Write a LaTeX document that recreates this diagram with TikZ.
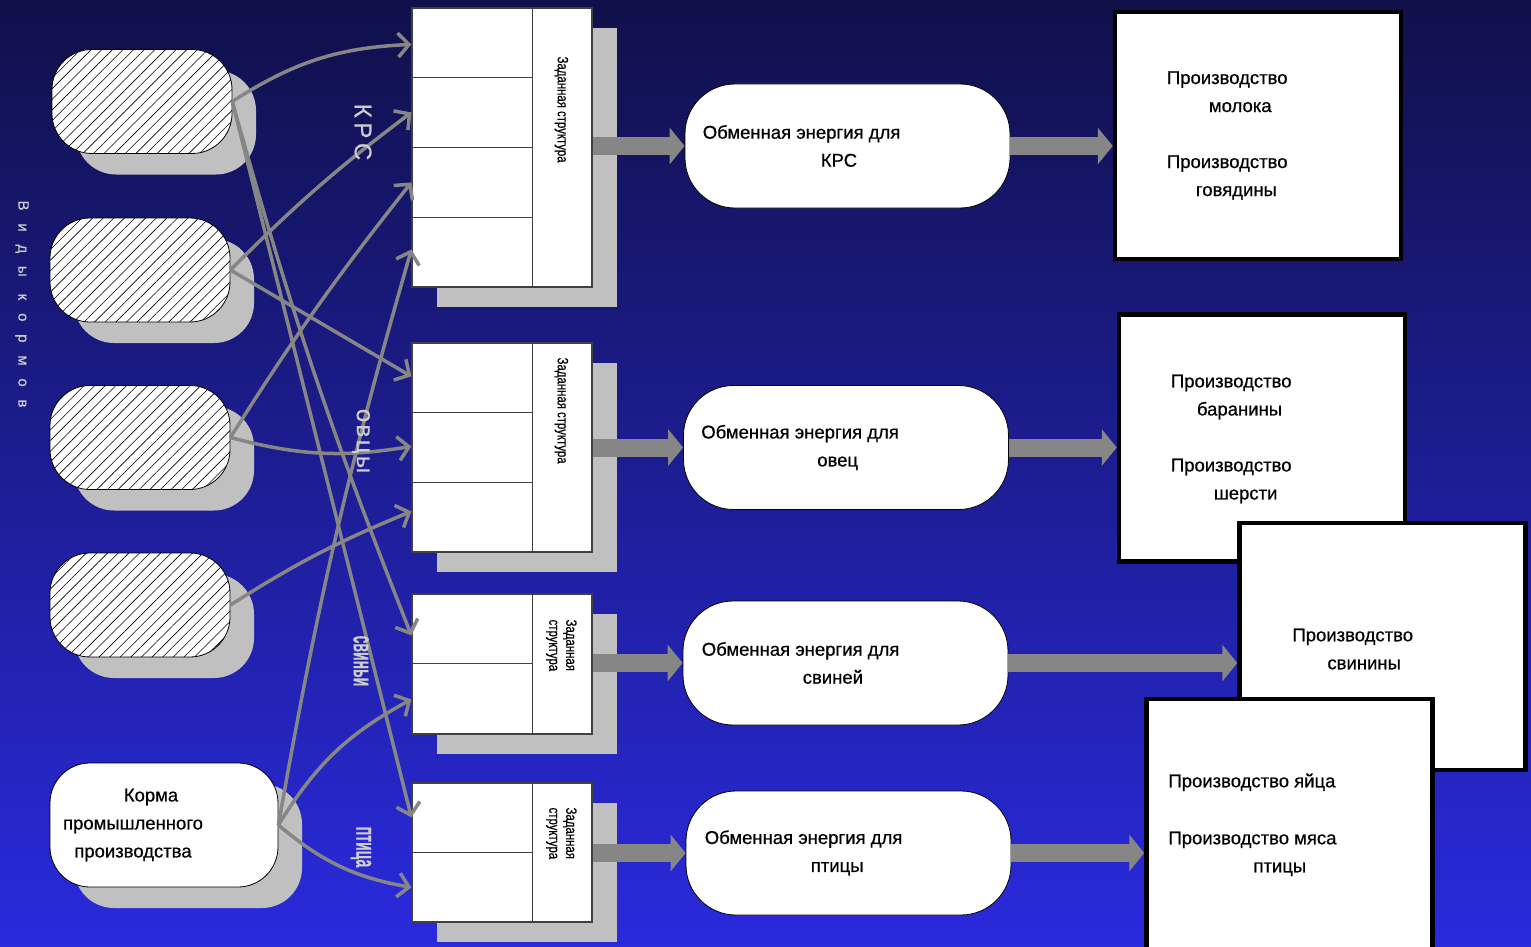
\documentclass[tikz,border=0pt]{standalone}
\usepackage{fontspec}
\setmainfont{Liberation Sans}[FakeBold=0.6]
\usetikzlibrary{arrows.meta,shadows,patterns.meta,calc}

\definecolor{bgtop}{RGB}{16,16,74}
\definecolor{bgmid}{RGB}{26,26,142}
\definecolor{bgbot}{RGB}{42,42,222}
\definecolor{shadowgray}{RGB}{192,192,192}
\definecolor{linkgray}{RGB}{134,134,134}
\definecolor{labelgray}{RGB}{205,205,205}

\newcommand{\narrow}[1]{\scalebox{0.76}[1]{#1}}
\newcommand{\squeeze}[1]{\scalebox{0.5}[1]{\bfseries #1}}

\tikzset{
  feed/.style={draw=black,line width=0.8pt,rounded corners=40pt,
    minimum width=180pt,minimum height=104pt,
    drop shadow={shadow xshift=24pt,shadow yshift=-21pt,opacity=1,fill=shadowgray}},
  hatched/.style={preaction={fill=white},
    pattern={Lines[angle=45,distance=7.5pt,line width=0.6pt]},pattern color=black},
  sbox/.style={draw=black!75,line width=1.2pt,fill=white,minimum width=180pt,
    drop shadow={shadow xshift=25pt,shadow yshift=-20pt,opacity=1,fill=shadowgray}},
  divline/.style={draw=black!75,line width=1.2pt},
  stext/.style={rotate=-90,anchor=west,inner sep=0pt,align=left,
    font=\fontsize{15}{17}\selectfont},
  ebox/.style={draw=black,line width=0.8pt,fill=white,rounded corners=50pt,
    minimum width=325pt,minimum height=124pt},
  etext/.style={anchor=west,inner sep=0pt,align=left,
    font=\fontsize{18.5}{28}\selectfont},
  pbox/.style={draw=black,line width=4.5pt,fill=white,
    minimum width=286pt,minimum height=247pt},
  ptext/.style={anchor=west,inner sep=0pt,align=left,
    font=\fontsize{18.5}{28}\selectfont},
  link/.style={draw=linkgray,line width=3.5pt,
    -{Straight Barb[length=11pt,width=24pt]}},
  bigarrow/.style={draw=linkgray,line width=18pt,
    -{Triangle[length=15pt,width=36pt]}},
  animal/.style={text=labelgray,rotate=-90,inner sep=0pt,
    font=\fontsize{24}{24}\selectfont}
}

\begin{document}
\begin{tikzpicture}[x=1pt,y=-1pt]
\shade[top color=bgtop,middle color=bgmid,bottom color=bgbot]
  (0,0) rectangle (1531,947);
\clip (0,0) rectangle (1531,947);

% feeds
\node[feed,hatched] (f1) at (142,101.5) {};
\node[feed,hatched] (f2) at (140,270) {};
\node[feed,hatched] (f3) at (140,437.5) {};
\node[feed,hatched] (f4) at (140,605) {};
\node[feed,fill=white,minimum width=228pt,minimum height=124pt] (fk) at (164,825) {};
\node[align=center,inner sep=0pt,font=\fontsize{18.5}{28}\selectfont]
  at ($(fk)+(-31,0)$) {\hspace*{36pt}Корма\\промышленного\\производства};

% structures
\node[sbox,minimum height=279pt] (skrs) at (502,147.5) {};
\node[sbox,minimum height=209pt] (sovc) at (502,447.5) {};
\node[sbox,minimum height=140pt] (ssvn) at (502,664) {};
\node[sbox,minimum height=139pt] (sptc) at (502,852.5) {};
\foreach \s in {skrs,sovc,ssvn,sptc}
  \draw[divline] ($(\s.north west)+(121,0)$) -- ($(\s.south west)+(121,0)$);
\foreach \r in {70,140,210}
  \draw[divline] ($(skrs.north west)+(0,\r)$) -- ++(121,0);
\foreach \r in {70,140}
  \draw[divline] ($(sovc.north west)+(0,\r)$) -- ++(121,0);
\draw[divline] ($(ssvn.north west)+(0,70)$) -- ++(121,0);
\draw[divline] ($(sptc.north west)+(0,70)$) -- ++(121,0);
\node[stext] at ($(skrs.north west)+(150,49)$) {\narrow{Заданная структура}};
\node[stext] at ($(sovc.north west)+(150,15)$) {\narrow{Заданная структура}};
\node[stext] at ($(ssvn.north west)+(150,26)$) {\narrow{Заданная}\\\narrow{структура}};
\node[stext] at ($(sptc.north west)+(150,25)$) {\narrow{Заданная}\\\narrow{структура}};

% arrow ends
\coordinate (k1) at ($(skrs.north west)+(0,37)$);
\coordinate (k2) at ($(skrs.north west)+(0,105)$);
\coordinate (k3) at ($(skrs.north west)+(0,175)$);
\coordinate (k4) at ($(skrs.north west)+(0,242)$);
\coordinate (o1) at ($(sovc.north west)+(0,34)$);
\coordinate (o2) at ($(sovc.north west)+(0,104)$);
\coordinate (o3) at ($(sovc.north west)+(0,169)$);
\coordinate (s1) at ($(ssvn.north west)+(0,42)$);
\coordinate (s2) at ($(ssvn.north west)+(0,106)$);
\coordinate (t1) at ($(sptc.north west)+(0,35)$);
\coordinate (t2) at ($(sptc.north west)+(0,105)$);

\draw[link] (f1.east) to[bend left=15] (k1);
\draw[link] (f2.east) to[bend left=4] (k2);
\draw[link] (f3.east) to[bend left=3] (k3);
\draw[link] (fk.east) to[bend left=3] (k4);
\draw[link] (f2.east) -- (o1);
\draw[link] (f3.east) to[bend right=12] (o2);
\draw[link] (f4.east) to[bend left=5] (o3);
\draw[link] (f1.east) to[bend right=3] (s1);
\draw[link] (f1.east) -- (t1);
\draw[link] (fk.east) to[bend left=15] (s2);
\draw[link] (fk.east) to[bend right=15] (t2);

% labels
\node[animal] at (363,132) {\addfontfeatures{LetterSpace=20}КРС};
\node[animal] at (361,441) {\addfontfeatures{LetterSpace=10}овцы};
\node[animal,font=\fontsize{28}{28}\selectfont] at (361,661) {\squeeze{свиньи}};
\node[animal,font=\fontsize{28}{28}\selectfont] at (361,847) {\squeeze{птица}};
\node[text=labelgray,rotate=-90,inner sep=0pt,font=\fontsize{15}{15}\selectfont]
  at (22,304) {\addfontfeatures{LetterSpace=85}Виды кормов};

% energy
\node[ebox] (e1) at (847.5,146) {};
\node[ebox] (e2) at (846,447.5) {};
\node[ebox] (e3) at (845.5,663) {};
\node[ebox] (e4) at (848.5,853) {};
\node[etext] at ($(e1.west)+(18,0)$) {Обменная энергия для\\\hspace*{118pt}КРС};
\node[etext] at ($(e2.west)+(18,0)$) {Обменная энергия для\\\hspace*{116pt}овец};
\node[etext] at ($(e3.west)+(19,0)$) {Обменная энергия для\\\hspace*{101pt}свиней};
\node[etext] at ($(e4.west)+(19,0)$) {Обменная энергия для\\\hspace*{106pt}птицы};

\draw[bigarrow] (skrs.east |- e1.west) -- (e1.west);
\draw[bigarrow] (sovc.east |- e2.west) -- (e2.west);
\draw[bigarrow] (ssvn.east |- e3.west) -- (e3.west);
\draw[bigarrow] (sptc.east |- e4.west) -- (e4.west);

% production
\node[pbox] (p1) at (1258,135.5) {};
\node[ptext] at ($(p1.west)+(54,0)$)
  {Производство\\\hspace*{42pt}молока\\[28pt]Производство\\\hspace*{29pt}говядины};
\node[pbox] (p2) at (1262,438) {};
\node[ptext] at ($(p2.west)+(54,1)$)
  {Производство\\\hspace*{26pt}баранины\\[28pt]Производство\\\hspace*{43pt}шерсти};
\node[pbox] (p3) at (1382.5,646.5) {};
\node[ptext] at ($(p3.west)+(55,2.5)$) {Производство\\\hspace*{35pt}свинины};
\node[pbox,minimum height=270pt] (p4) at (1289.5,834) {};
\node[ptext] at ($(p4.north west)+(24,128)$)
  {Производство яйца\\[29pt]Производство мяса\\\hspace*{85pt}птицы};

\draw[bigarrow] (e1.east) -- (e1.east -| p1.west);
\draw[bigarrow] (e2.east) -- (e2.east -| p2.west);
\draw[bigarrow] (e3.east) -- (e3.east -| p3.west);
\draw[bigarrow] (e4.east) -- (e4.east -| p4.west);
\end{tikzpicture}
\end{document}
